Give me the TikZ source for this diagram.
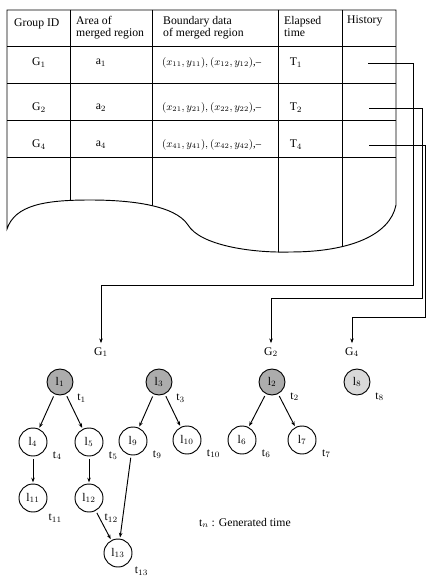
\documentclass[tikz,border=0pt]{standalone}
\usepackage{fontspec}
\setmainfont{Liberation Serif}
\usetikzlibrary{arrows.meta,positioning,calc}
\newcommand{\tbloutline}{(7,10) -- (396,10) -- (396,205) .. controls (390,235) and (350,252) .. (290,252) .. controls (250,253) and (200,245) .. (188,225) .. controls (175,205) and (130,200) .. (90,200) .. controls (45,200) and (15,205) .. (7,229) -- cycle}
\tikzset{cell/.style={anchor=north west, align=left, inner sep=0pt, font=\linespread{0.85}\selectfont}, bnd/.style={anchor=west, font=\small}, root/.style={circle, draw, thick, fill=gray!65, minimum size=7.8mm, inner sep=0pt}, lroot/.style={circle, draw, thick, fill=gray!30, minimum size=7.8mm, inner sep=0pt}, leaf/.style={circle, draw, thick, minimum size=8.4mm, inner sep=0pt}, tlab/.style={inner sep=0pt, label distance=2.2mm}, edge/.style={-{Stealth[length=4pt,width=3pt]}, thick, shorten <=2pt, shorten >=1pt}, link/.style={-{Stealth[length=4pt,width=3pt]}, semithick}}

\begin{document}
\begin{tikzpicture}[x=0.3mm,y=-0.3mm]
\useasboundingbox (0,0) rectangle (426,577);
\begin{scope}
\clip \tbloutline;
\foreach \x in {70,152,278,342} \draw[thick] (\x,10) -- (\x,260);
\foreach \y in {46,83,120,157} \draw[thick] (7,\y) -- (396,\y);
\end{scope}
\draw[thick] \tbloutline;
\node[cell] (hgid) at (14,19) {Group ID};
\node[cell] (harea) at (76,16) {Area of\\merged region};
\node[cell] (hbnd) at (163,16) {Boundary data\\of merged region};
\node[cell] (htime) at (284,16) {Elapsed\\time};
\node[cell] (hhist) at (347,16) {History};
\node (g1) at (39,63) {G$_1$}; \node (a1) at (101,63) {a$_1$}; \node[bnd] (b1) at (158,63) {$(x_{11},y_{11}),(x_{12},y_{12})$,--}; \node (tt1) at (296,63) {T$_1$};
\node (g2) at (39,108) {G$_2$}; \node (a2) at (101,108) {a$_2$}; \node[bnd] (b2) at (158,108) {$(x_{21},y_{21}),(x_{22},y_{22})$,--}; \node (tt2) at (296,108) {T$_2$};
\node (g4) at (39,145) {G$_4$}; \node (a4) at (101,145) {a$_4$}; \node[bnd] (b4) at (158,145) {$(x_{41},y_{41}),(x_{42},y_{42})$,--}; \node (tt4) at (296,145) {T$_4$};
\coordinate (h1) at (368,63); \coordinate (h2) at (369,108); \coordinate (h4) at (369,145);
\coordinate (r1) at (413,285); \coordinate (r2) at (422,298); \coordinate (r4) at (425,317);
\node (grp1) at (101,352) {G$_1$}; \node (grp2) at (271,352) {G$_2$}; \node (grp4) at (352,352) {G$_4$};
\draw[link] (h1) -| (r1) -| (grp1); \draw[link] (h2) -| (r2) -| (grp2); \draw[link] (h4) -| (r4) -| (grp4);
\node[root,label={[tlab]-35:t$_1$}] (l1) at (60,382) {l$_1$};
\node[root,label={[tlab]-35:t$_3$}] (l3) at (159,382) {l$_3$};
\node[root,label={[tlab]-30:t$_2$}] (l2) at (272,382) {l$_2$};
\node[lroot,label={[tlab]-30:t$_8$}] (l8) at (357,382) {l$_8$};
\node[leaf,label={[tlab]-25:t$_4$}] (l4) at (33,442) {l$_4$};
\node[leaf,label={[tlab]-25:t$_5$}] (l5) at (89,442) {l$_5$};
\node[leaf,label={[tlab]-25:t$_9$}] (l9) at (133,441) {l$_9$};
\node[leaf,label={[tlab]-25:t$_{10}$}] (l10) at (187,440) {l$_{10}$};
\node[leaf,label={[tlab]-25:t$_6$}] (l6) at (242,440) {l$_6$};
\node[leaf,label={[tlab]-25:t$_7$}] (l7) at (302,440) {l$_7$};
\node[leaf,label={[tlab]-45:t$_{11}$}] (l11) at (33,498) {l$_{11}$};
\node[leaf,label={[tlab]-45:t$_{12}$}] (l12) at (89,498) {l$_{12}$};
\node[leaf,label={[tlab]-40:t$_{13}$}] (l13) at (118,553) {l$_{13}$};
\draw[edge] (l1)--(l4); \draw[edge] (l1)--(l5); \draw[edge] (l3)--(l9); \draw[edge] (l3)--(l10);
\draw[edge] (l2)--(l6); \draw[edge] (l2)--(l7); \draw[edge] (l4)--(l11); \draw[edge] (l5)--(l12);
\draw[edge] (l12)--(l13); \draw[edge] (l9)--(l13);
\node[anchor=west] (legend) at (195,523) {t$_n$ : Generated time};
\end{tikzpicture}
\end{document}
